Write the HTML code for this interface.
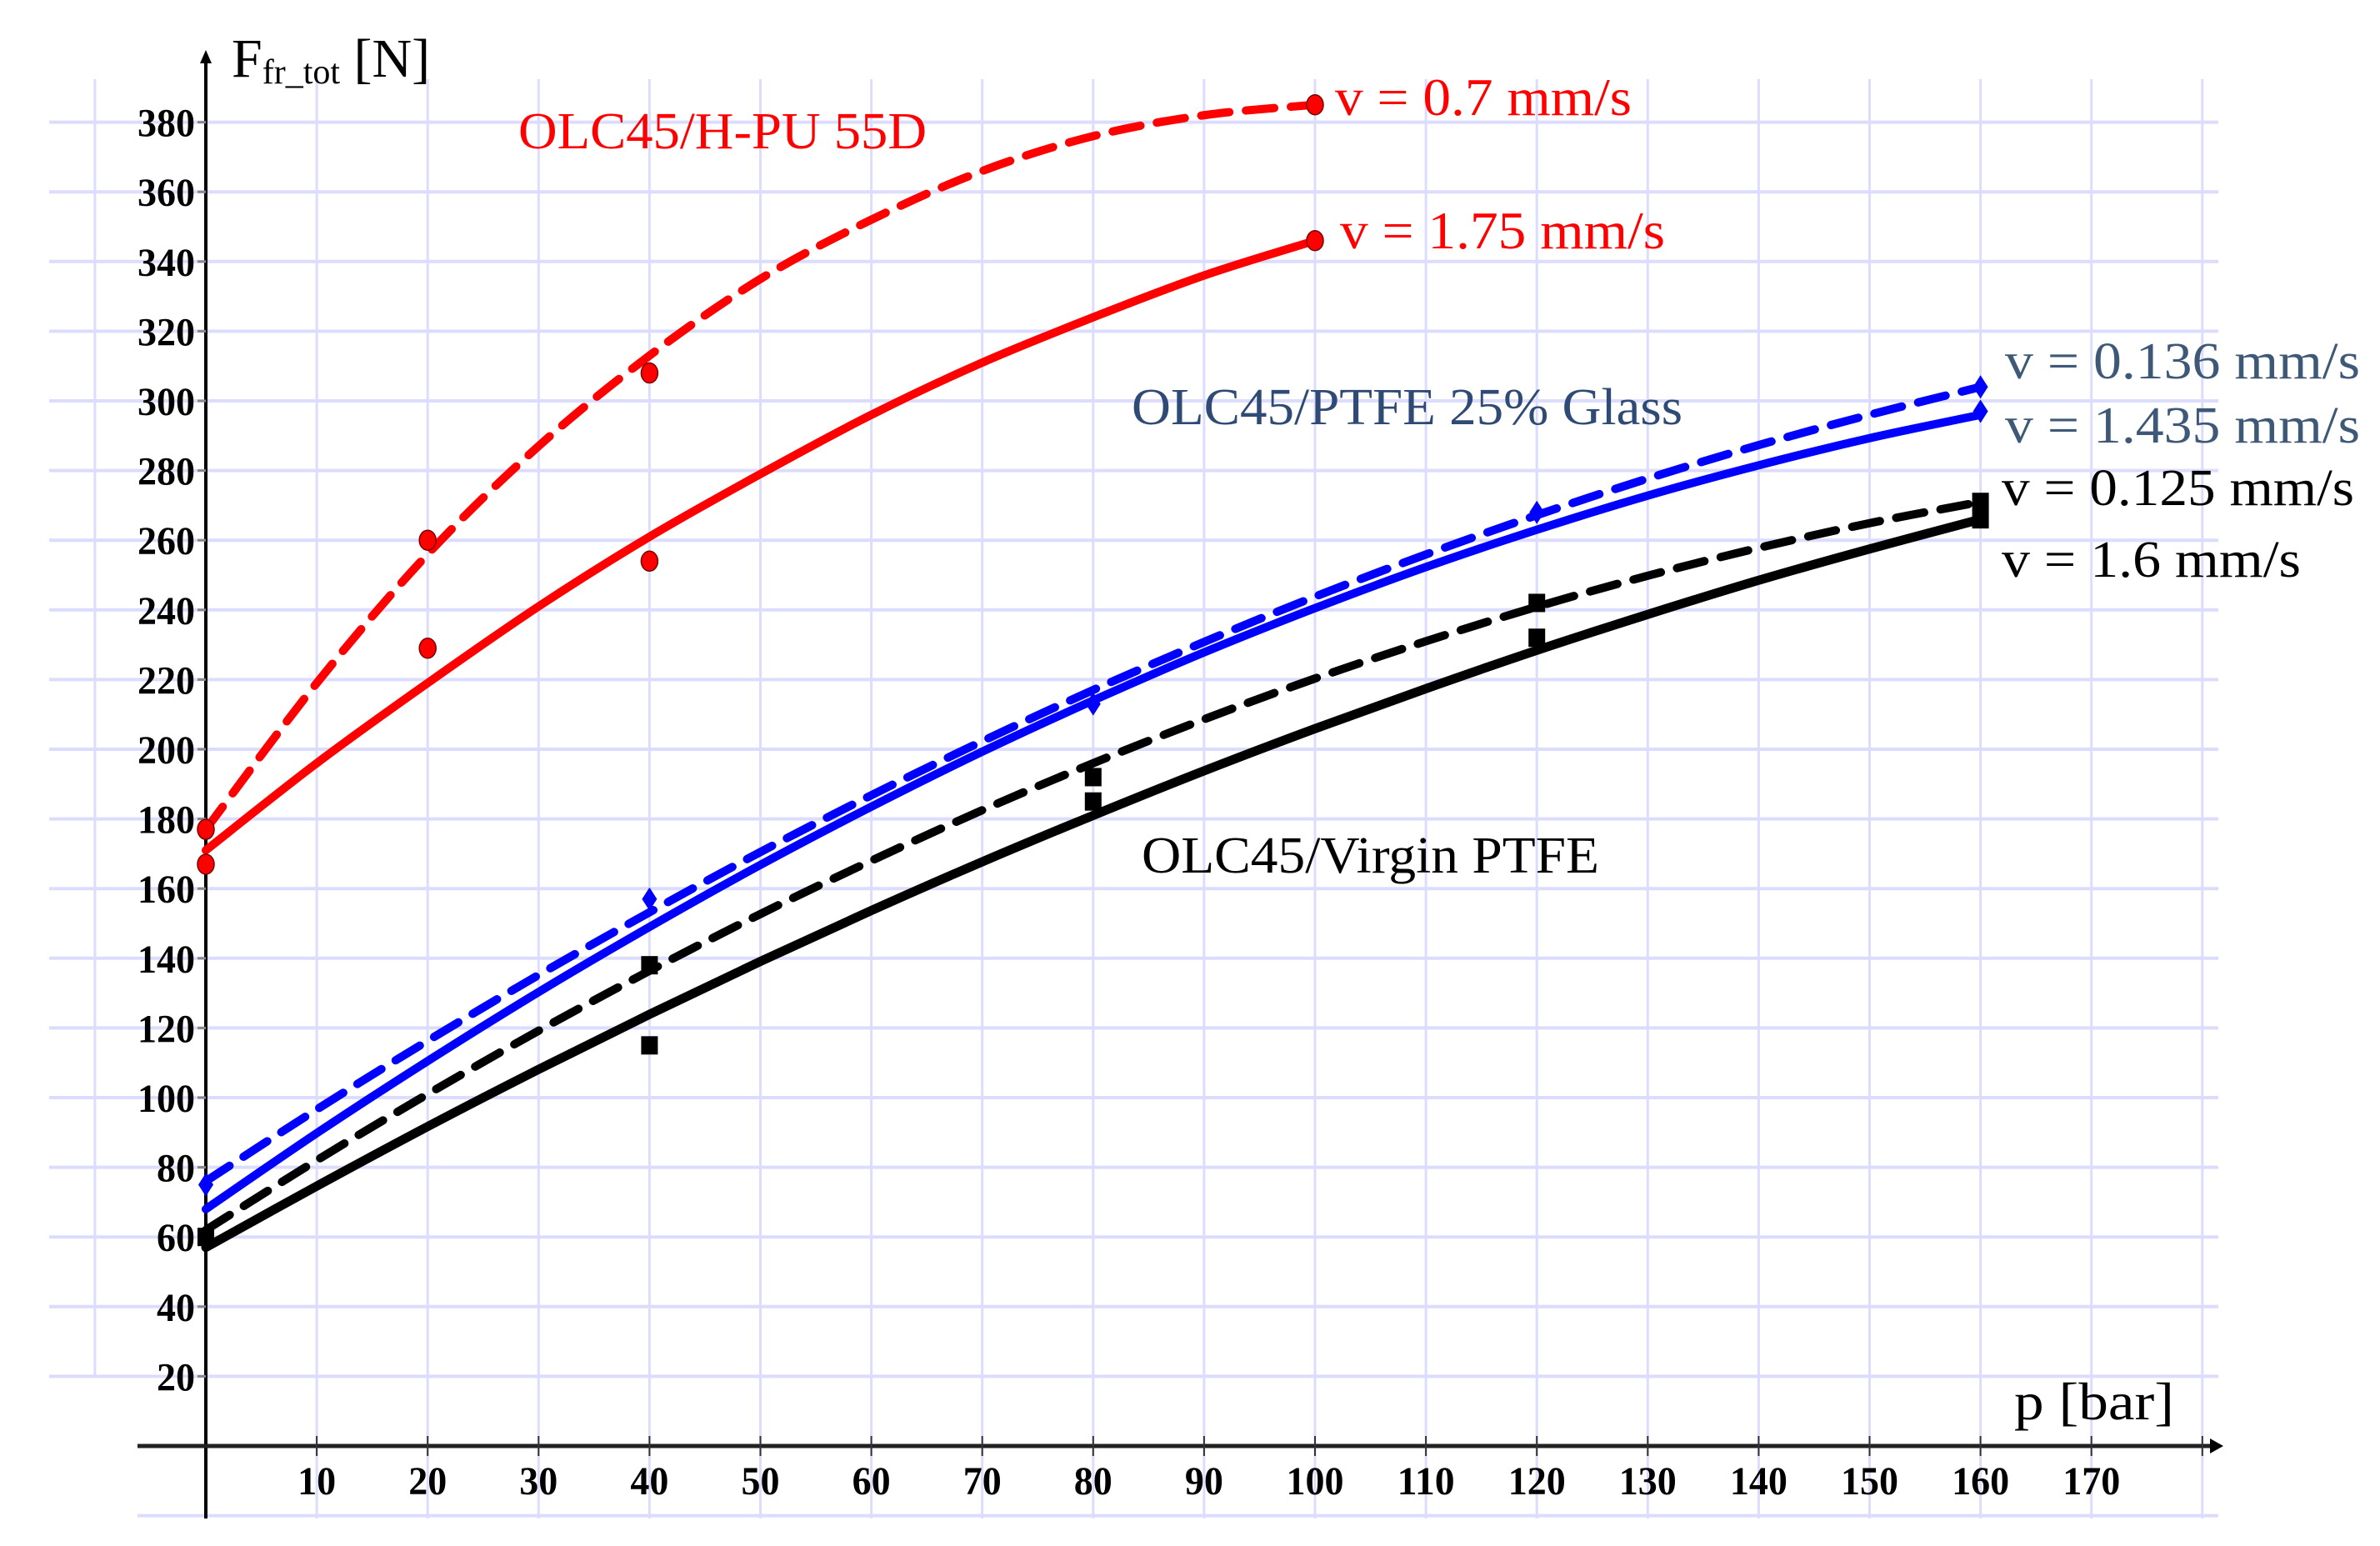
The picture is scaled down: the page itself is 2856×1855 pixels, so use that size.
<!DOCTYPE html>
<html><head><meta charset="utf-8"><style>
html,body{margin:0;padding:0;background:#fff;}
svg{display:block;}
text{font-family:"Liberation Serif",serif;}
</style></head><body>
<svg id="chart" width="2856" height="1855" viewBox="0 0 2856 1855" xmlns="http://www.w3.org/2000/svg">
<g id="grid"></g>
<g id="axes"></g>
<g id="series"></g>
<g id="labels">
<text x="278" y="92" font-size="66">F<tspan font-size="42" dy="8">fr_tot</tspan><tspan dy="-8" font-size="66"> [N]</tspan></text>
<text x="2417" y="1703" font-size="64" textLength="192" lengthAdjust="spacingAndGlyphs">p [bar]</text>
<text x="622" y="178" font-size="62" fill="#ff0000" textLength="490" lengthAdjust="spacingAndGlyphs">OLC45/H-PU 55D</text>
<text x="1602" y="138" font-size="64" fill="#ff0000" textLength="356" lengthAdjust="spacingAndGlyphs">v = 0.7 mm/s</text>
<text x="1608" y="298" font-size="64" fill="#ff0000" textLength="390" lengthAdjust="spacingAndGlyphs">v = 1.75 mm/s</text>
<text x="1358" y="509" font-size="62" fill="#2f4a75" textLength="661" lengthAdjust="spacingAndGlyphs">OLC45/PTFE 25% Glass</text>
<text x="2406" y="454" font-size="62" fill="#3e5878" textLength="426" lengthAdjust="spacingAndGlyphs">v = 0.136 mm/s</text>
<text x="2406" y="531" font-size="62" fill="#3e5878" textLength="426" lengthAdjust="spacingAndGlyphs">v = 1.435 mm/s</text>
<text x="2402" y="606" font-size="62" fill="#000" textLength="423" lengthAdjust="spacingAndGlyphs">v = 0.125 mm/s</text>
<text x="2402" y="692" font-size="62" fill="#000" textLength="359" lengthAdjust="spacingAndGlyphs">v = 1.6 mm/s</text>
<text x="1370" y="1047" font-size="62" fill="#000" textLength="549" lengthAdjust="spacingAndGlyphs">OLC45/Virgin PTFE</text>
</g>
</svg>
<script>
// data
const xTicks = [10,20,30,40,50,60,70,80,90,100,110,120,130,140,150,160,170];
const yTicks = [20,40,60,80,100,120,140,160,180,200,220,240,260,280,300,320,340,360,380];
const pRed = [0,10,20,30,40,50,60,70,80,90,100];
const redDashed = [177,219,256,287,313,335,352,366,376,382,385];
const redSolid = [171,196,219,241,261,279,296,311,324,336,346];
const pLong = [0,10,20,30,40,50,60,70,80,90,100,110,120,130,140,150,160];
const blueDashed = [76,96.6,116.3,135.2,153.2,170.5,186.8,202.3,217,230.8,243.8,255.9,267.2,277.7,287.3,296,304];
const blueSolid = [68,89.8,110.5,130.3,149,166.8,183.5,199.3,214,227.8,240.5,252.3,263,272.8,281.5,289.3,296];
const blackDashed = [62,82,101,119.2,136.4,152.7,168,182.5,196,208.6,220.3,231,240.9,249.8,257.8,264.9,271];
const blackSolid = [57,74.6,91.7,108.1,123.9,139.1,153.7,167.7,181,193.8,205.9,217.4,228.4,238.7,248.5,257.5,266];
const redPtsP = [0,0,20,20,40,40,100,100];
const redPtsF = [177,167,260,229,308,254,385,346];
const bluePtsP = [0,40,80,120,160,160];
const bluePtsF = [75,157,213,268,304,297];
const blackPtsP = [0,40,40,80,80,120,120,160,160];
const blackPtsF = [60,138,115,192,185,242,232,271,266];

const NS = "http://www.w3.org/2000/svg";
const X = p => 247 + p * 13.31;
const Y = f => 1735 - f * 4.18;
function mk(tag, attrs, parent) {
  const e = document.createElementNS(NS, tag);
  for (const k in attrs) e.setAttribute(k, attrs[k]);
  parent.appendChild(e);
  return e;
}
const grid = document.getElementById('grid');
const axes = document.getElementById('axes');
const series = document.getElementById('series');
const gc = "#dcdcff";
for (let p = -10; p <= 180; p += 10) {
  const l = mk('line', {x1: X(p), x2: X(p), y1: 95, y2: p === -10 ? Y(20) : 1822, stroke: gc, 'stroke-width': 3}, grid);
  
  
}
for (let f = -20; f <= 380; f += 20) {
  if (f === 0) continue;
  const l = mk('line', {x1: f < 20 ? 165 : 59, x2: 2662, y1: Y(f), y2: Y(f), stroke: gc, 'stroke-width': 4}, grid);
  
  
}
const ya = mk('line', {x1: X(0), x2: X(0), y1: 70, y2: 1822, stroke: '#000', 'stroke-width': 4}, axes);


const yArr = mk('polygon', {points: `${X(0)-7},76 ${X(0)+7},76 ${X(0)},60`, fill: '#000'}, axes);


const xa = mk('line', {x1: 165, x2: 2655, y1: Y(0), y2: Y(0), stroke: '#222', 'stroke-width': 5}, axes);


const xArr = mk('polygon', {points: `2652,${Y(0)-9} 2652,${Y(0)+9} 2668,${Y(0)}`, fill: '#000'}, axes);


for (const p of xTicks.concat([180])) {
  const t = mk('line', {x1: X(p), x2: X(p), y1: Y(0)-12, y2: Y(0)+12, stroke: '#333', 'stroke-width': 2}, axes);
  
  
}
for (const p of xTicks) {
  const s = String(p);
  const t = mk('text', {x: X(p), y: 1793, 'font-size': 48, 'font-weight': 'bold', 'text-anchor': 'middle', textLength: s.length * 23, lengthAdjust: 'spacingAndGlyphs'}, axes);
  t.textContent = s;
  
  
}
for (const f of yTicks) {
  const tk = mk('line', {x1: X(0)-10, x2: X(0), y1: Y(f), y2: Y(f), stroke: '#888', 'stroke-width': 3}, axes);
  
  
  const s = String(f);
  const t = mk('text', {x: 234, y: Y(f) + 17, 'font-size': 48, 'font-weight': 'bold', 'text-anchor': 'end', textLength: s.length * 23, lengthAdjust: 'spacingAndGlyphs'}, axes);
  t.textContent = s;
  
  
}
function pathD(ps, fs) {
  const pts = ps.map((p, i) => [X(p), Y(fs[i])]);
  let d = `M${pts[0][0]},${pts[0][1]}`;
  for (let i = 0; i < pts.length - 1; i++) {
    const p0 = pts[Math.max(0, i-1)], p1 = pts[i], p2 = pts[i+1], p3 = pts[Math.min(pts.length-1, i+2)];
    const c1 = [p1[0] + (p2[0]-p0[0])/6, p1[1] + (p2[1]-p0[1])/6];
    const c2 = [p2[0] - (p3[0]-p1[0])/6, p2[1] - (p3[1]-p1[1])/6];
    d += ` C${c1[0]},${c1[1]} ${c2[0]},${c2[1]} ${p2[0]},${p2[1]}`;
  }
  return d;
}
function curve(ps, fs, color, dashed, w, name) {
  const a = {d: pathD(ps, fs), fill: 'none', stroke: color, 'stroke-width': w, 'stroke-linecap': 'round'};
  if (dashed) a['stroke-dasharray'] = '34 20';
  const e = mk('path', a, series);
  
  
}
curve(pRed, redDashed, '#ff0000', true, 10, 'curve-hpu-v0.7');
curve(pRed, redSolid, '#ff0000', false, 10, 'curve-hpu-v1.75');
curve(pLong, blackDashed, '#000', true, 10, 'curve-virgin-v0.125');
curve(pLong, blackSolid, '#000', false, 11, 'curve-virgin-v1.6');
curve(pLong, blueDashed, '#0000ff', true, 10, 'curve-glass-v0.136');
curve(pLong, blueSolid, '#0000ff', false, 10, 'curve-glass-v1.435');
redPtsP.forEach((p, i) => {
  const c = mk('ellipse', {cx: X(p), cy: Y(redPtsF[i]), rx: 10, ry: 12, fill: '#ff0000', stroke: '#700', 'stroke-width': 1.5}, series);
  
  
});
bluePtsP.forEach((p, i) => {
  const x = X(p), y = Y(bluePtsF[i]);
  const c = mk('polygon', {points: `${x},${y-14} ${x+9},${y} ${x},${y+14} ${x-9},${y}`, fill: '#0000ff'}, series);
  
  
});
blackPtsP.forEach((p, i) => {
  const c = mk('rect', {x: X(p)-10, y: Y(blackPtsF[i])-11, width: 20, height: 22, fill: '#000'}, series);
  
  
});
</script>
</body></html>
